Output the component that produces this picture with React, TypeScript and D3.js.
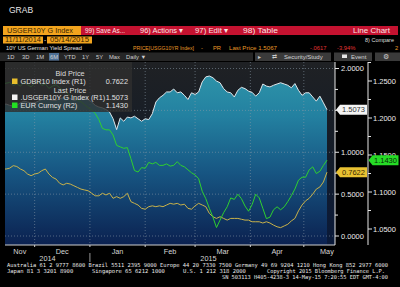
import React from "react";
import * as d3 from "d3";

const START = new Date(2014, 10, 11);
const END = new Date(2015, 4, 14);
const dates: Date[] = d3.timeDay.range(START, d3.timeDay.offset(END, 1), 2);

const spread = [1.57,1.57,1.575,1.56,1.55,1.56,1.59,1.61,1.60,1.59,
  1.59,1.61,1.63,1.64,1.63,1.62,1.62,1.64,1.65,1.66,
  1.64,1.62,1.63,1.64,1.65,1.63,1.60,1.56,1.54,1.53,
  1.51,1.48,1.40,1.27,1.41,1.37,1.42,1.41,1.43,1.40,
  1.37,1.40,1.39,1.46,1.60,1.65,1.68,1.72,1.72,1.755,
  1.71,1.72,1.68,1.63,1.71,1.69,1.72,1.84,1.90,1.91,
  1.89,1.85,1.83,1.76,1.72,1.71,1.66,1.74,1.775,1.76,
  1.73,1.715,1.67,1.71,1.815,1.79,1.78,1.80,1.815,1.83,
  1.815,1.80,1.77,1.82,1.74,1.68,1.71,1.71,1.66,1.61,
  1.67,1.59,1.5073];

const bund = [0.80,0.80,0.80,0.81,0.84,0.83,0.80,0.78,0.74,0.72,
  0.74,0.75,0.78,0.80,0.74,0.70,0.68,0.63,0.61,0.63,
  0.62,0.60,0.58,0.56,0.55,0.54,0.51,0.48,0.48,0.51,
  0.49,0.51,0.45,0.47,0.45,0.47,0.51,0.41,0.39,0.37,
  0.33,0.32,0.35,0.36,0.35,0.36,0.35,0.37,0.39,0.38,
  0.39,0.37,0.38,0.33,0.32,0.36,0.39,0.37,0.35,0.27,
  0.23,0.21,0.23,0.21,0.19,0.21,0.21,0.21,0.20,0.19,
  0.19,0.17,0.17,0.17,0.155,0.17,0.155,0.13,0.11,0.10,
  0.12,0.14,0.18,0.21,0.30,0.37,0.42,0.45,0.50,0.56,
  0.585,0.645,0.7622];

const eur = [1.246,1.246,1.247,1.248,1.244,1.246,1.243,1.248,1.245,1.242,
  1.247,1.249,1.244,1.246,1.240,1.243,1.245,1.241,1.237,1.234,
  1.230,1.228,1.224,1.222,1.218,1.214,1.211,1.206,1.198,1.186,
  1.184,1.184,1.177,1.163,1.161,1.159,1.160,1.145,1.129,1.127,
  1.133,1.132,1.140,1.138,1.140,1.136,1.136,1.138,1.135,1.136,
  1.141,1.136,1.134,1.130,1.126,1.123,1.118,1.101,1.091,1.078,
  1.066,1.052,1.062,1.072,1.080,1.092,1.090,1.097,1.091,1.081,
  1.074,1.083,1.097,1.092,1.078,1.064,1.066,1.076,1.080,1.076,
  1.080,1.087,1.095,1.104,1.116,1.120,1.120,1.130,1.134,1.125,
  1.128,1.136,1.143];

const r1Ticks = [0, 0.25, 0.5, 0.75, 1, 1.25, 1.5, 1.75, 2];
const r1Labels = [0, 0.5, 1, 1.5, 2];
const r2Ticks = [1.05, 1.075, 1.1, 1.125, 1.15, 1.175, 1.2, 1.225, 1.25, 1.275];
const r2Labels = [1.05, 1.1, 1.15, 1.2, 1.25];
const yearLabels = ["2014", "2015"];

const FONT = "'Liberation Sans', Arial, sans-serif";
const MONO = "'DejaVu Sans Mono', 'Liberation Mono', monospace";

export default function App() {
  const L = 5, R = 335, T = 62, B = 245;
  const x = d3.scaleTime().domain([START, END]).range([-1, 327]);
  const y1 = d3.scaleLinear().domain([0, 2]).range([236, 68.5]);
  const y2 = d3.scaleLinear().domain([1.05, 1.25]).range([229, 81]);

  const area = d3.area<number>().x((_, i) => x(dates[i])).y0(B).y1((d) => y1(d));
  const line1 = d3.line<number>().x((_, i) => x(dates[i])).y((d) => y1(d));
  const line2 = d3.line<number>().x((_, i) => x(dates[i])).y((d) => y2(d));

  const monthStarts = d3.timeMonth.range(new Date(2014, 11, 1), new Date(2015, 4, 2));
  const monthSpans = d3.timeMonth.range(new Date(2014, 10, 1), new Date(2015, 5, 1));
  const fmt = d3.timeFormat("%b");
  const f4 = d3.format(".4f");
  const jan1 = x(new Date(2015, 0, 1));

  const tag = (x0: number, w: number, cy: number) =>
    `M${x0},${cy} L${x0 + 4},${cy - 5} L${x0 + w},${cy - 5} L${x0 + w},${cy + 5} L${x0 + 4},${cy + 5} Z`;

  const lastS = spread[spread.length - 1];
  const lastB = bund[bund.length - 1];
  const lastE = eur[eur.length - 1];

  const fit = { lengthAdjust: "spacingAndGlyphs" as const };

  return (
    <div style={{ position: "absolute", left: 0, top: 0 }}>
      <svg width={400} height={287} style={{ display: "block" }} fontFamily={FONT}>
        <defs>
          <linearGradient id="bg" x1="0" y1={T} x2="0" y2={B} gradientUnits="userSpaceOnUse">
            <stop offset="0" stopColor="#1f2124" />
            <stop offset="0.5" stopColor="#141c28" />
            <stop offset="1" stopColor="#0a1a3a" />
          </linearGradient>
          <linearGradient id="ar" x1="0" y1={T} x2="0" y2={B} gradientUnits="userSpaceOnUse">
            <stop offset="0" stopColor="#3099ac" />
            <stop offset="0.3" stopColor="#2380a0" />
            <stop offset="0.6" stopColor="#175683" />
            <stop offset="1" stopColor="#0b2150" />
          </linearGradient>
          <clipPath id="plot">
            <rect x={L} y={T} width={R - L} height={B - T} />
          </clipPath>
        </defs>
        <rect x={0} y={0} width={400} height={287} fill="#000" />

        {/* header */}
        <text x={9} y={13} fill="#e6e6e6" fontSize={8.5}>GRAB</text>
        <rect x={3} y={26} width={78} height={9} fill="#f2a41e" />
        <text x={7} y={33.3} fill="#3a2400" fontSize={7.8} textLength={66} {...fit}>USGER10Y G Index</text>
        <rect x={81} y={26} width={317} height={9} fill="#c41230" />
        <text x={85} y={33.3} fill="#fbe3e3" fontSize={7.8} textLength={40} {...fit}>99) Save As...</text>
        <text x={140} y={33.3} fill="#fbe3e3" fontSize={7.8} textLength={43} {...fit}>96) Actions ▾</text>
        <text x={195} y={33.3} fill="#fbe3e3" fontSize={7.8} textLength={33} {...fit}>97) Edit ▾</text>
        <text x={243} y={33.3} fill="#fbe3e3" fontSize={7.8} textLength={35} {...fit}>98) Table</text>
        <text x={353} y={33.3} fill="#fbe3e3" fontSize={7.8} textLength={37} {...fit}>Line Chart</text>
        <rect x={3} y={36.5} width={40} height={7} fill="#f2a41e" />
        <text x={5} y={42.3} fill="#3a2400" fontSize={6.3} textLength={36} {...fit}>11/11/2014</text>
        <text x={44} y={42.3} fill="#ddd" fontSize={6.3}>-</text>
        <rect x={47} y={36.5} width={45} height={7} fill="#f2a41e" />
        <text x={50} y={42.3} fill="#3a2400" fontSize={6.3} textLength={39} {...fit}>05/14/2015</text>
        <text x={365} y={42} fill="#ddd" fontSize={5.8} textLength={29} {...fit}>8) Compare</text>
        <text x={6} y={50} fill="#e4e4e4" fontSize={6} textLength={76} {...fit}>10Y US German Yield Spread</text>
        <text x={133} y={50} fill="#e89a28" fontSize={5.8} textLength={61} {...fit}>PRICE[USGG10YR Index]</text>
        <text x={201} y={50} fill="#e89a28" fontSize={5.8}>-</text>
        <text x={213} y={50} fill="#e89a28" fontSize={5.8}>PR</text>
        <text x={229} y={50} fill="#e89a28" fontSize={5.8} textLength={48} {...fit}>Last Price 1.5067</text>
        <text x={310} y={50} fill="#e03434" fontSize={5.8}>-.0617</text>
        <text x={337} y={50} fill="#e03434" fontSize={5.8}>-3.94%</text>
        <text x={395} y={50} fill="#e89a28" fontSize={5.8}>2</text>

        {/* toolbar */}
        <rect x={0} y={52.5} width={253} height={8.5} fill="#262626" />
        <rect x={49} y={53} width={10} height={7.5} fill="#4d6f95" />
        {["1D", "3D", "1M", "6M", "YTD", "1Y", "5Y", "Max", "Daily ▼"].map((s, i) => (
          <text key={s} x={[7, 22, 36, 50, 64, 82, 96, 109, 126][i]} y={59} fill="#cfcfcf" fontSize={5.8}>{s}</text>
        ))}
        <rect x={255} y={52.5} width={76} height={8.5} fill="#3a3a3a" />
        <rect x={334} y={52.5} width={38} height={8.5} fill="#3a3a3a" />
        <rect x={375} y={52.5} width={25} height={8.5} fill="#3a3a3a" />
        <text x={258} y={59} fill="#ccc" fontSize={6}>▸</text>
        <text x={272} y={59} fill="#ccc" fontSize={6}>⇄</text>
        <text x={284} y={59} fill="#d4d4d4" fontSize={6}>Security/Study</text>
        <rect x={342} y={54.5} width={5} height={3.5} fill="#e6e6e6" />
        <text x={351} y={59} fill="#d4d4d4" fontSize={6}>Event</text>
        <text x={383} y={59.3} fill="#ccc" fontSize={7}>⚙</text>

        {/* plot */}
        <rect x={L} y={T} width={R - L} height={B - T} fill="url(#bg)" />
        <g clipPath="url(#plot)">
          <path d={area(spread) || ""} fill="url(#ar)" />
          {r1Labels.map((v) => (
            <line key={v} x1={L} x2={R} y1={y1(v)} y2={y1(v)} stroke="#8a9aa8" strokeWidth={0.8} strokeDasharray="1,2" opacity={0.7} />
          ))}
          {monthStarts.map((d) => (
            <line key={+d} x1={x(d)} x2={x(d)} y1={T} y2={B} stroke="#8a9aa8" strokeWidth={0.8} strokeDasharray="1,2" opacity={0.7} />
          ))}
          <path d={line1(spread) || ""} fill="none" stroke="#dfe6ea" strokeWidth={1} />
          <path d={line1(bund) || ""} fill="none" stroke="#c9b24a" strokeWidth={1} />
          <path d={line2(eur) || ""} fill="none" stroke="#2fd02f" strokeWidth={1} />
        </g>

        {/* legend */}
        <rect x={L} y={T} width={127} height={50} fill="#2e2e2e" opacity={0.82} />
        <text x={70} y={76} fill="#dcdcdc" fontSize={7.3} textAnchor="middle">Bid Price</text>
        <rect x={12} y={78.5} width={5.5} height={5.5} fill="#e8be2c" />
        <text x={20.5} y={84} fill="#e0e0e0" fontSize={7.3}>GDBR10 Index  (R1)</text>
        <text x={128} y={84} fill="#e0e0e0" fontSize={7.3} textAnchor="end">{f4(lastB)}</text>
        <text x={70} y={92.5} fill="#dcdcdc" fontSize={7.3} textAnchor="middle">Last Price</text>
        <rect x={12} y={94.5} width={5.5} height={5.5} fill="#f4f4f4" />
        <text x={20.5} y={100} fill="#e0e0e0" fontSize={7.3}>.USGER10Y G Index  (R1)</text>
        <text x={128} y={100} fill="#e0e0e0" fontSize={7.3} textAnchor="end">{f4(lastS)}</text>
        <rect x={12} y={102.5} width={5.5} height={5.5} fill="#22e022" />
        <text x={20.5} y={108} fill="#e0e0e0" fontSize={7.3}>EUR Curncy  (R2)</text>
        <text x={128} y={108} fill="#e0e0e0" fontSize={7.3} textAnchor="end">{f4(lastE)}</text>

        {/* x axis */}
        <line x1={L} x2={R} y1={B} y2={B} stroke="#cfcfcf" strokeWidth={1} />
        {monthStarts.map((d) => (
          <line key={+d} x1={x(d)} x2={x(d)} y1={B} y2={B + 2} stroke="#cfcfcf" strokeWidth={1} />
        ))}
        {monthSpans.map((d) => {
          const a = Math.max(x(d), L);
          const b = Math.min(x(d3.timeMonth.offset(d, 1)), 350);
          return (
            <text key={+d} x={(a + b) / 2} y={254} fill="#d6d6d6" fontSize={7.3} textAnchor="middle">{fmt(d)}</text>
          );
        })}
        <text x={(L + jan1) / 2} y={261} fill="#d6d6d6" fontSize={7.3} textAnchor="middle">{yearLabels[0]}</text>
        <text x={(jan1 + x(END)) / 2} y={261} fill="#d6d6d6" fontSize={7.3} textAnchor="middle">{yearLabels[1]}</text>
        <line x1={jan1} x2={jan1} y1={253} y2={262} stroke="#bbb" strokeWidth={0.8} />

        {/* R1 axis */}
        <line x1={R} x2={R} y1={T} y2={B} stroke="#e6e6e6" strokeWidth={1} />
        {r1Ticks.map((v) => (
          <line key={v} x1={R} x2={R + (r1Labels.includes(v) ? 4 : 3)} y1={y1(v)} y2={y1(v)} stroke="#e6e6e6" strokeWidth={1} />
        ))}
        {r1Labels.map((v) => (
          <text key={v} x={341} y={y1(v) + 2.7} fill="#ececec" fontSize={7.5}>{f4(v)}</text>
        ))}

        {/* R2 axis */}
        <line x1={368} x2={368} y1={T} y2={B} stroke="#e6e6e6" strokeWidth={1} />
        {r2Ticks.map((v) => (
          <line key={v} x1={368} x2={368 + (r2Labels.some((l) => Math.abs(l - v) < 1e-9) ? 4 : 3)} y1={y2(v)} y2={y2(v)} stroke="#e6e6e6" strokeWidth={1} />
        ))}
        {r2Labels.map((v) => (
          <text key={v} x={373} y={y2(v) + 2.7} fill="#ececec" fontSize={7.5}>{f4(v)}</text>
        ))}

        {/* last value tags */}
        <path d={tag(336, 31, y1(lastS))} fill="#f4f4f4" />
        <text x={342} y={y1(lastS) + 2.7} fill="#333" fontSize={7.5}>{f4(lastS)}</text>
        <path d={tag(336, 31, y1(lastB))} fill="#e9c232" />
        <text x={342} y={y1(lastB) + 2.7} fill="#3a2a00" fontSize={7.5}>{f4(lastB)}</text>
        <path d={tag(368.5, 30, y2(lastE))} fill="#26dc26" />
        <text x={374} y={y2(lastE) + 2.7} fill="#063006" fontSize={7.5}>{f4(lastE)}</text>

        {/* footer */}
        <g fontFamily={MONO} fontSize={5.5} fill="#e8e8e8">
          <text x={7} y={267} textLength={381} {...fit}>Australia 61 2 9777 8600 Brazil 5511 2395 9000 Europe 44 20 7330 7500 Germany 49 69 9204 1210 Hong Kong 852 2977 6000</text>
          <text x={7} y={273}>Japan 81 3 3201 8900</text>
          <text x={92} y={273}>Singapore 65 6212 1000</text>
          <text x={183} y={273}>U.S. 1 212 318 2000</text>
          <text x={267} y={273} textLength={118} {...fit}>Copyright 2015 Bloomberg Finance L.P.</text>
          <text x={222} y={278.5} textLength={166} {...fit}>SN 503113 H405-4238-3 14-May-15 7:20:55 EDT GMT-4:00</text>
        </g>
      </svg>
    </div>
  );
}
